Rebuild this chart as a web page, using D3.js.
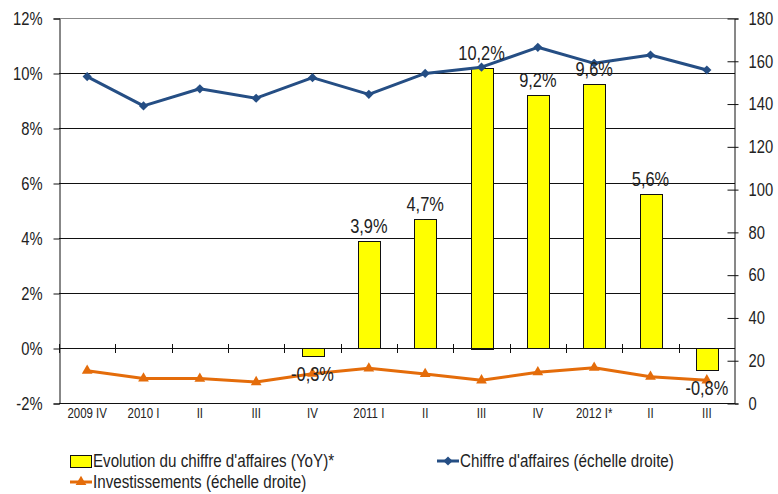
<!DOCTYPE html>
<html>
<head>
<meta charset="utf-8">
<script src="https://cdn.jsdelivr.net/npm/d3@7"></script>
<style>
body{margin:0;background:#fff;}
text{font-family:"Liberation Sans",Arial,sans-serif;fill:#222;}
</style>
</head>
<body>
<div id="chart"></div>
<script>
var categories=["2009 IV","2010 I","II","III","IV","2011 I","II","III","IV","2012 I*","II","III"];
var evolution=[0,0,0,0,-0.3,3.9,4.7,10.2,9.2,9.6,5.6,-0.8];
var chiffre=[152.6,138.9,146.9,142.5,152.1,144.3,154.1,157.0,166.3,158.8,162.7,155.7];
var invest=[15.1,11.5,11.4,9.8,13.7,16.2,13.6,10.6,14.4,16.5,12.3,10.6];
var leftTicks=[-2,0,2,4,6,8,10,12];
var rightTicks=[0,20,40,60,80,100,120,140,160,180];
var legendLabels=["Evolution du chiffre d'affaires (YoY)*","Chiffre d'affaires (échelle droite)","Investissements (échelle droite)"];

var width=778,height=494;
var margin={top:18,bottom:403,left:59,right:735};
var blue="#254e84",orange="#e46c0a",yellow="#ffff00";

var svg=d3.select("#chart").append("svg")
	.attr("width",width)
	.attr("height",height);

// police étroite : Liberation Sans compressée horizontalement
function narrow(sel){
	sel.each(function(){
		var t=d3.select(this);
		var tx=+t.attr("x")||0,ty=+t.attr("y")||0;
		t.attr("x",0).attr("y",0)
			.attr("transform","translate("+tx+","+ty+") scale(0.82,1)");
	});
}

var x=d3.scaleBand()
	.domain(d3.range(categories.length))
	.range([margin.left,margin.right]);

var y=d3.scaleLinear()
	.domain([-2,12])
	.range([margin.bottom,margin.top]);

var y2=d3.scaleLinear()
	.domain([0,180])
	.range([margin.bottom,margin.top]);

// grille
svg.append("g").selectAll("line")
	.data(leftTicks)
	.enter().append("line")
	.attr("x1",margin.left).attr("x2",margin.right)
	.attr("y1",function(d){return Math.round(y(d))+0.5;})
	.attr("y2",function(d){return Math.round(y(d))+0.5;})
	.attr("stroke",function(d){return d==12?"#888":"#111";})
	.attr("stroke-width",1);

// axe gauche
var gl=svg.append("g")
	.attr("transform","translate("+(margin.left+0.5)+",0.5)")
	.call(d3.axisLeft(y).tickValues(leftTicks).tickSize(6).tickPadding(11)
		.tickFormat(function(d){return d+"%";}));
gl.select(".domain").attr("stroke","#111");
gl.selectAll(".tick line").attr("stroke","#111");
gl.selectAll("text").style("font-size","18px").attr("fill","#222").call(narrow);

// axe droit
var gr=svg.append("g")
	.attr("transform","translate("+(margin.right-0.5)+",0.5)")
	.call(d3.axisRight(y2).tickValues(rightTicks).tickSize(4).tickPadding(10));
gr.select(".domain").attr("stroke","#111");
gr.selectAll(".tick line").attr("x1",-7).attr("stroke","#111");
gr.selectAll("text").style("font-size","18px").attr("fill","#222").call(narrow);

// axe x (libellés en bas)
var gx=svg.append("g")
	.attr("transform","translate(0,"+margin.bottom+")")
	.call(d3.axisBottom(x).tickSize(0).tickPadding(5)
		.tickFormat(function(i){return categories[i];}));
gx.select(".domain").remove();
gx.selectAll("text").style("font-size","14px").attr("fill","#222").call(narrow);

function cx(i){return x(i)+x.bandwidth()/2;}

// barres
var barW=22;
var bars=evolution.map(function(v,i){return {i:i,v:v};}).filter(function(d){return d.v!=0;});
svg.append("g").selectAll("rect")
	.data(bars)
	.enter().append("rect")
	.attr("x",function(d){return Math.round(cx(d.i)-barW/2)+0.5;})
	.attr("y",function(d){return Math.round(y(Math.max(0,d.v)))+0.5;})
	.attr("width",barW)
	.attr("height",function(d){return Math.round(Math.abs(y(d.v)-y(0)));})
	.attr("fill",yellow)
	.attr("stroke","#111")
	.attr("stroke-width",1);

// ligne 0% et graduations des catégories
svg.append("line")
	.attr("x1",margin.left).attr("x2",margin.right)
	.attr("y1",Math.round(y(0))+0.5).attr("y2",Math.round(y(0))+0.5)
	.attr("stroke","#111");
svg.append("g").selectAll("line")
	.data(d3.range(categories.length))
	.enter().append("line")
	.attr("x1",function(i){return Math.round(x(i))+0.5;})
	.attr("x2",function(i){return Math.round(x(i))+0.5;})
	.attr("y1",Math.round(y(0))-4)
	.attr("y2",Math.round(y(0))+5)
	.attr("stroke","#111");

// lignes
var line=d3.line().x(function(d,i){return cx(i);}).y(function(d){return y2(d);});
svg.append("path")
	.datum(chiffre)
	.attr("fill","none")
	.attr("stroke",blue)
	.attr("stroke-width",3)
	.attr("stroke-linejoin","round")
	.attr("d",line);

svg.append("path")
	.datum(invest)
	.attr("fill","none")
	.attr("stroke",orange)
	.attr("stroke-width",3)
	.attr("stroke-linejoin","round")
	.attr("d",line);

var diamond=d3.symbol().type(d3.symbolSquare).size(42);
var triangle=d3.symbol().type(d3.symbolTriangle).size(50);

svg.append("g").selectAll("path")
	.data(chiffre)
	.enter().append("path")
	.attr("d",diamond)
	.attr("transform",function(d,i){return "translate("+cx(i)+","+y2(d)+") rotate(45)";})
	.attr("fill",blue);

svg.append("g").selectAll("path")
	.data(invest)
	.enter().append("path")
	.attr("d",triangle)
	.attr("transform",function(d,i){return "translate("+cx(i)+","+y2(d)+")";})
	.attr("fill",orange);

// étiquettes
svg.append("g").selectAll("text")
	.data(bars)
	.enter().append("text")
	.attr("x",function(d){return cx(d.i);})
	.attr("y",function(d){return d.v>0?y(d.v)-8:y(d.v)+25;})
	.attr("text-anchor","middle")
	.style("font-size","20px")
	.text(function(d){return d3.format(".1f")(d.v).replace(".",",").replace("−","-")+"%";})
	.call(narrow);

// légende
var lg=svg.append("g").style("font-size","18.5px");
lg.append("rect").attr("x",70.5).attr("y",455.5).attr("width",21).attr("height",12)
	.attr("fill",yellow).attr("stroke","#111");
lg.append("text").attr("x",93).attr("y",467).text(legendLabels[0]);

lg.append("line").attr("x1",437).attr("x2",459).attr("y1",461).attr("y2",461)
	.attr("stroke",blue).attr("stroke-width",3);
lg.append("path").attr("d",diamond).attr("transform","translate(448,461) rotate(45)").attr("fill",blue);
lg.append("text").attr("x",460).attr("y",467).text(legendLabels[1]);

lg.append("line").attr("x1",70).attr("x2",92).attr("y1",482).attr("y2",482)
	.attr("stroke",orange).attr("stroke-width",3);
lg.append("path").attr("d",triangle).attr("transform","translate(81,482)").attr("fill",orange);
lg.append("text").attr("x",93).attr("y",488).text(legendLabels[2]);
lg.selectAll("text").call(narrow);
</script>
</body>
</html>
